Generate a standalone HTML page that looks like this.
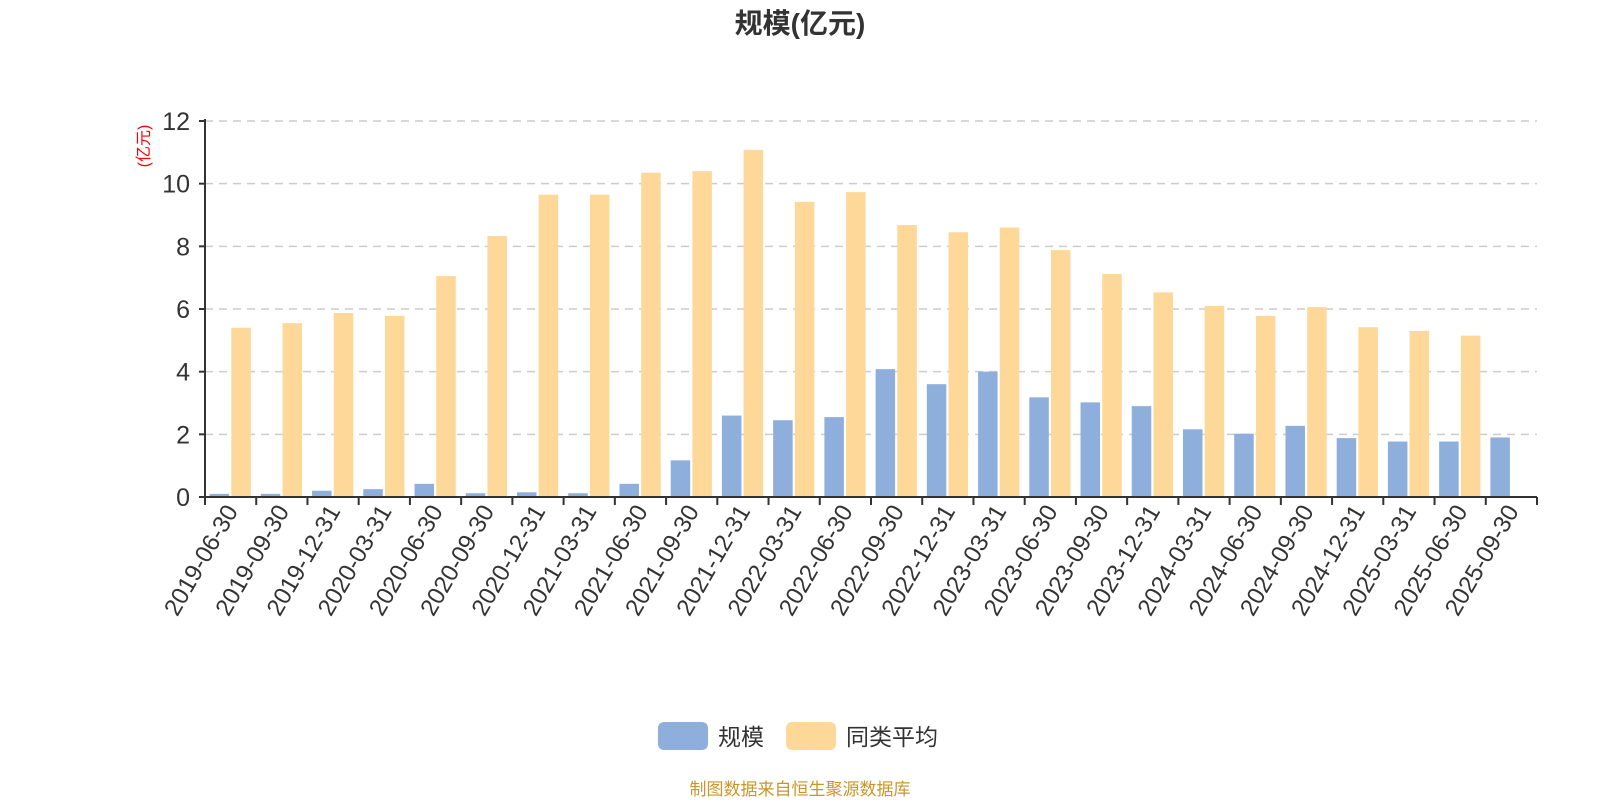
<!DOCTYPE html>
<html><head><meta charset="utf-8"><style>
body{margin:0;background:#fff;width:1600px;height:800px;overflow:hidden;font-family:"Liberation Sans","Noto Sans CJK SC",sans-serif}
</style></head><body>
<svg id="chart" width="1600" height="800" xmlns="http://www.w3.org/2000/svg" font-family="Liberation Sans, Noto Sans CJK SC, sans-serif">
<text x="800" y="33" text-anchor="middle" font-size="28" font-weight="bold" fill="#333">规模(亿元)</text>
<text transform="translate(149,146) rotate(-90)" text-anchor="middle" font-size="16" fill="#f00">(亿元)</text>
<g id="grid"></g><g id="bars"></g><g id="axes"></g>
<g>
<g><rect x="658" y="722" width="50" height="28" rx="6" fill="#8eaedb"/><text x="718" y="745" font-size="23" fill="#333">规模</text></g>
<g><rect x="786" y="722" width="50" height="28" rx="6" fill="#fed899"/><text x="846" y="745" font-size="23" fill="#333">同类平均</text></g>
</g>
<text x="800" y="795" text-anchor="middle" font-size="17" fill="#c9962a">制图数据来自恒生聚源数据库</text>
</svg>
<script>
const categories=["2019-06-30","2019-09-30","2019-12-31","2020-03-31","2020-06-30","2020-09-30","2020-12-31","2021-03-31","2021-06-30","2021-09-30","2021-12-31","2022-03-31","2022-06-30","2022-09-30","2022-12-31","2023-03-31","2023-06-30","2023-09-30","2023-12-31","2024-03-31","2024-06-30","2024-09-30","2024-12-31","2025-03-31","2025-06-30","2025-09-30"];
const scaleValues=[0.1,0.1,0.2,0.25,0.42,0.12,0.15,0.12,0.42,1.17,2.6,2.45,2.55,4.08,3.6,4.0,3.18,3.02,2.9,2.16,2.02,2.27,1.88,1.77,1.77,1.9];
const avgValues=[5.4,5.55,5.87,5.78,7.05,8.33,9.65,9.65,10.35,10.4,11.08,9.42,9.73,8.68,8.45,8.6,7.88,7.12,6.53,6.1,5.78,6.06,5.42,5.3,5.15,null];
const yTicks=[0,2,4,6,8,10,12];
const NS="http://www.w3.org/2000/svg";
const X0=205,X1=1537,Y0=497,Y1=121,yMax=12;
const bw=(X1-X0)/categories.length;
const y=v=>Y0-(v/yMax)*(Y0-Y1);
const xc=i=>X0+bw*(i+0.5);
function mk(t,a,p){const e=document.createElementNS(NS,t);for(const k in a)e.setAttribute(k,a[k]);p.appendChild(e);return e;}
const grid=document.getElementById('grid'),bars=document.getElementById('bars'),axes=document.getElementById('axes');
yTicks.forEach(t=>{
 if(t>0){const g=mk('line',{x1:X0,x2:X1,y1:y(t),y2:y(t),stroke:'#ccc','stroke-width':1.5,'stroke-dasharray':'8,6'},grid);
 
 }
 const tk=mk('line',{x1:X0-6,x2:X0,y1:y(t),y2:y(t),stroke:'#333','stroke-width':2},axes);
 
 
 const lb=mk('text',{x:X0-15,y:y(t)+9,'text-anchor':'end','font-size':25,fill:'#333'},axes);
 lb.textContent=t;
 
 
});
categories.forEach((c,i)=>{
 const cx=xc(i);
 const sv=scaleValues[i];
 if(sv!=null){const r=mk('rect',{x:cx-21,y:y(sv),width:19.5,height:Y0-y(sv),fill:'#8eaedb'},bars);
 
 }
 const av=avgValues[i];
 if(av!=null){const r=mk('rect',{x:cx+0.7,y:y(av),width:19.5,height:Y0-y(av),fill:'#fed899'},bars);
 
 }
 const xl=X0+bw*i;
 const tk=mk('line',{x1:xl,x2:xl,y1:Y0,y2:Y0+8,stroke:'#333','stroke-width':2},axes);
 
 
 const lb=mk('text',{transform:`translate(${cx+8},${Y0+14}) rotate(-60)`,'text-anchor':'end','font-size':24,fill:'#333'},axes);
 lb.textContent=c;
 
 
});
const lastTick=mk('line',{x1:X1,x2:X1,y1:Y0,y2:Y0+8,stroke:'#333','stroke-width':2},axes);


const ya=mk('line',{x1:X0,x2:X0,y1:Y1-2,y2:Y0+8,stroke:'#333','stroke-width':2},axes);


const xa=mk('line',{x1:X0,x2:X1,y1:Y0,y2:Y0,stroke:'#333','stroke-width':2},axes);


</script>
</body></html>
